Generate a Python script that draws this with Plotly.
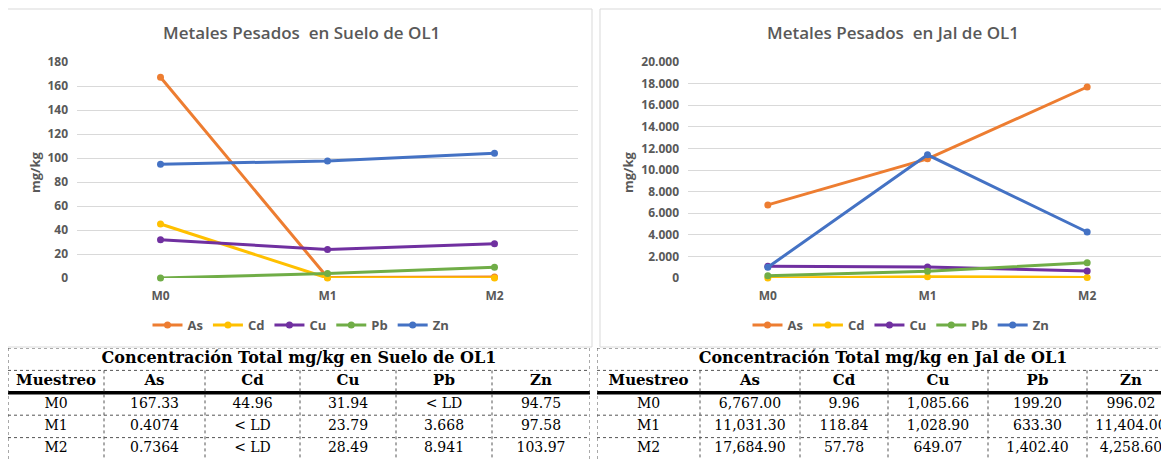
import plotly.graph_objects as go

W, H = 1169, 459
OFF = 8  # page body margin of the browser

muestreos = ["M0", "M1", "M2"]
metales = ["As", "Cd", "Cu", "Pb", "Zn"]
colores = ["#ED7D31", "#FFC000", "#7030A0", "#70AD47", "#4472C4"]

# Table strings (as shown in the reference)
suelo_as = ["167.33", "0.4074", "0.7364"]
suelo_cd = ["44.96", "< LD", "< LD"]
suelo_cu = ["31.94", "23.79", "28.49"]
suelo_pb = ["< LD", "3.668", "8.941"]
suelo_zn = ["94.75", "97.58", "103.97"]

jal_as = ["6,767.00", "11,031.30", "17,684.90"]
jal_cd = ["9.96", "118.84", "57.78"]
jal_cu = ["1,085.66", "1,028.90", "649.07"]
jal_pb = ["199.20", "633.30", "1,402.40"]
jal_zn = ["996.02", "11,404.00", "4,258.60"]

titulo_suelo = "Metales Pesados  en Suelo de OL1"
titulo_jal = "Metales Pesados  en Jal de OL1"
tabla_suelo_titulo = "Concentración Total mg/kg en Suelo de OL1"
tabla_jal_titulo = "Concentración Total mg/kg en Jal de OL1"
col_header = "Muestreo"
y_title = "mg/kg"


def num(s):
    s = s.replace(",", "")
    return 0.0 if "LD" in s else float(s)


suelo = [suelo_as, suelo_cd, suelo_cu, suelo_pb, suelo_zn]
jal = [jal_as, jal_cd, jal_cu, jal_pb, jal_zn]


def px(x):
    return (x - OFF) / W


def py(y):
    return (H - (y - OFF)) / H


def clamp(v):
    return min(1.0, max(0.0, v))


GRAY = "#595959"
FONT = "Open Sans"
SERIF = "DejaVu Serif"

fig = go.Figure()

for series, xa, ya, lg in [(suelo, "x", "y", "legend"), (jal, "x2", "y2", "legend2")]:
    for i, m in enumerate(metales):
        fig.add_trace(go.Scatter(
            x=muestreos, y=[num(v) for v in series[i]], name=m, mode="lines+markers",
            line=dict(color=colores[i], width=3), marker=dict(size=7, color=colores[i]),
            cliponaxis=False, xaxis=xa, yaxis=ya, legend=lg, hoverinfo="skip"))

# ---- tables drawn as text on their own axes ----
left_bounds = [8, 104, 205, 300, 396, 492, 590]
right_bounds = [597, 700, 800, 888, 988, 1087, 1175]
ROW_TOP, ROW_H = 348, 22.4
title_centers = [299, 883]
tables = [
    ("x3", "y3", left_bounds, tabla_suelo_titulo, suelo, title_centers[0]),
    ("x4", "y4", right_bounds, tabla_jal_titulo, jal, title_centers[1]),
]
for xa, ya, b, title, series, tc in tables:
    centers = [(b[k] + b[k + 1]) / 2 for k in range(6)]
    fig.add_trace(go.Scatter(
        x=[tc], y=[0], text=["<b>%s</b>" % title],
        mode="text", textfont=dict(family=SERIF, size=16, color="black"),
        xaxis=xa, yaxis=ya, showlegend=False, cliponaxis=False, hoverinfo="skip"))
    fig.add_trace(go.Scatter(
        x=centers, y=[1] * 6, text=["<b>%s</b>" % t for t in [col_header] + metales],
        mode="text", textfont=dict(family=SERIF, size=15, color="black"),
        xaxis=xa, yaxis=ya, showlegend=False, cliponaxis=False, hoverinfo="skip"))
    for r, mu in enumerate(muestreos):
        fig.add_trace(go.Scatter(
            x=centers, y=[2 + r] * 6, text=[mu] + [s[r] for s in series],
            mode="text", textfont=dict(family=SERIF, size=14, color="black"),
            xaxis=xa, yaxis=ya, showlegend=False, cliponaxis=False, hoverinfo="skip"))
    border = dict(color="#555", width=1, dash="dot")
    for yy in [-0.5, 0.5, 2.5, 3.5]:
        fig.add_shape(type="line", xref=xa, yref=ya, x0=b[0], x1=b[-1], y0=yy, y1=yy, line=border)
    fig.add_shape(type="line", xref=xa, yref=ya, x0=b[0], x1=b[-1], y0=1.5, y1=1.5,
                  line=dict(color="black", width=3.5))
    for k, xx in enumerate(b):
        y0 = -0.5 if k in (0, 6) else 0.5
        fig.add_shape(type="line", xref=xa, yref=ya, x0=xx, x1=xx, y0=y0, y1=4.6, line=border)

axis_font = dict(family=FONT, size=12, color=GRAY, weight="bold")
xa_common = dict(range=[-0.5, 2.5], showgrid=False, showline=False, zeroline=False,
                 ticks="", tickfont=axis_font, automargin=False, ticklabelstandoff=9)
ya_common = dict(showgrid=True, gridcolor="#D9D9D9", gridwidth=1, zeroline=False,
                 showline=False, ticks="", tickfont=axis_font, automargin=False,
                 ticklabelstandoff=8)
hidden = dict(visible=False, showgrid=False, zeroline=False, automargin=False)
tab_dom_y = [clamp(py(ROW_TOP + 5 * ROW_H)), clamp(py(ROW_TOP))]

fig.update_layout(
    width=W, height=H, margin=dict(l=0, r=0, t=0, b=0, autoexpand=False),
    paper_bgcolor="white", plot_bgcolor="rgba(0,0,0,0)", separators=",.",
    xaxis=dict(domain=[px(77), px(578)], anchor="y", **xa_common),
    yaxis=dict(domain=[py(278), py(62)], range=[0, 180], dtick=20, anchor="x", **ya_common),
    xaxis2=dict(domain=[px(688), px(1167)], anchor="y2", **xa_common),
    yaxis2=dict(domain=[py(278), py(62)], range=[0, 20000], dtick=2000,
                tickformat=",d", anchor="x2", **ya_common),
    xaxis3=dict(domain=[clamp(px(left_bounds[0])), clamp(px(left_bounds[-1]))],
                range=[left_bounds[0], left_bounds[-1]], anchor="y3", **hidden),
    yaxis3=dict(domain=tab_dom_y, range=[4.5, -0.5], anchor="x3", **hidden),
    xaxis4=dict(domain=[clamp(px(right_bounds[0])), clamp(px(right_bounds[-1]))],
                range=[right_bounds[0], right_bounds[-1]], anchor="y4", **hidden),
    yaxis4=dict(domain=tab_dom_y, range=[4.5, -0.5], anchor="x4", **hidden),
    legend=dict(orientation="h", x=px(301), y=py(325), xanchor="center", yanchor="middle",
                font=dict(family=FONT, size=13, color=GRAY, weight="bold"),
                bgcolor="rgba(0,0,0,0)", itemclick=False),
    legend2=dict(orientation="h", x=px(901), y=py(325), xanchor="center", yanchor="middle",
                 font=dict(family=FONT, size=13, color=GRAY, weight="bold"),
                 bgcolor="rgba(0,0,0,0)", itemclick=False),
    showlegend=True,
)

for x0, x1 in [(7, 592), (600, 1185)]:
    fig.add_shape(type="rect", xref="paper", yref="paper", x0=px(x0), x1=px(x1),
                  y0=py(347), y1=py(9), line=dict(color="#D9D9D9", width=1), layer="below")

for cx, t in [(301, titulo_suelo), (893, titulo_jal)]:
    fig.add_annotation(text=t, x=px(cx), y=py(33), xref="paper", yref="paper",
                       xanchor="center", yanchor="middle", showarrow=False,
                       font=dict(family=FONT, size=17, color=GRAY, weight=600))
for cx in [35, 628]:
    fig.add_annotation(text=y_title, x=px(cx), y=py(172), xref="paper", yref="paper",
                       xanchor="center", yanchor="middle", showarrow=False, textangle=-90,
                       font=dict(family=FONT, size=13, color=GRAY, weight="bold"))

fig.write_html("out.html")
